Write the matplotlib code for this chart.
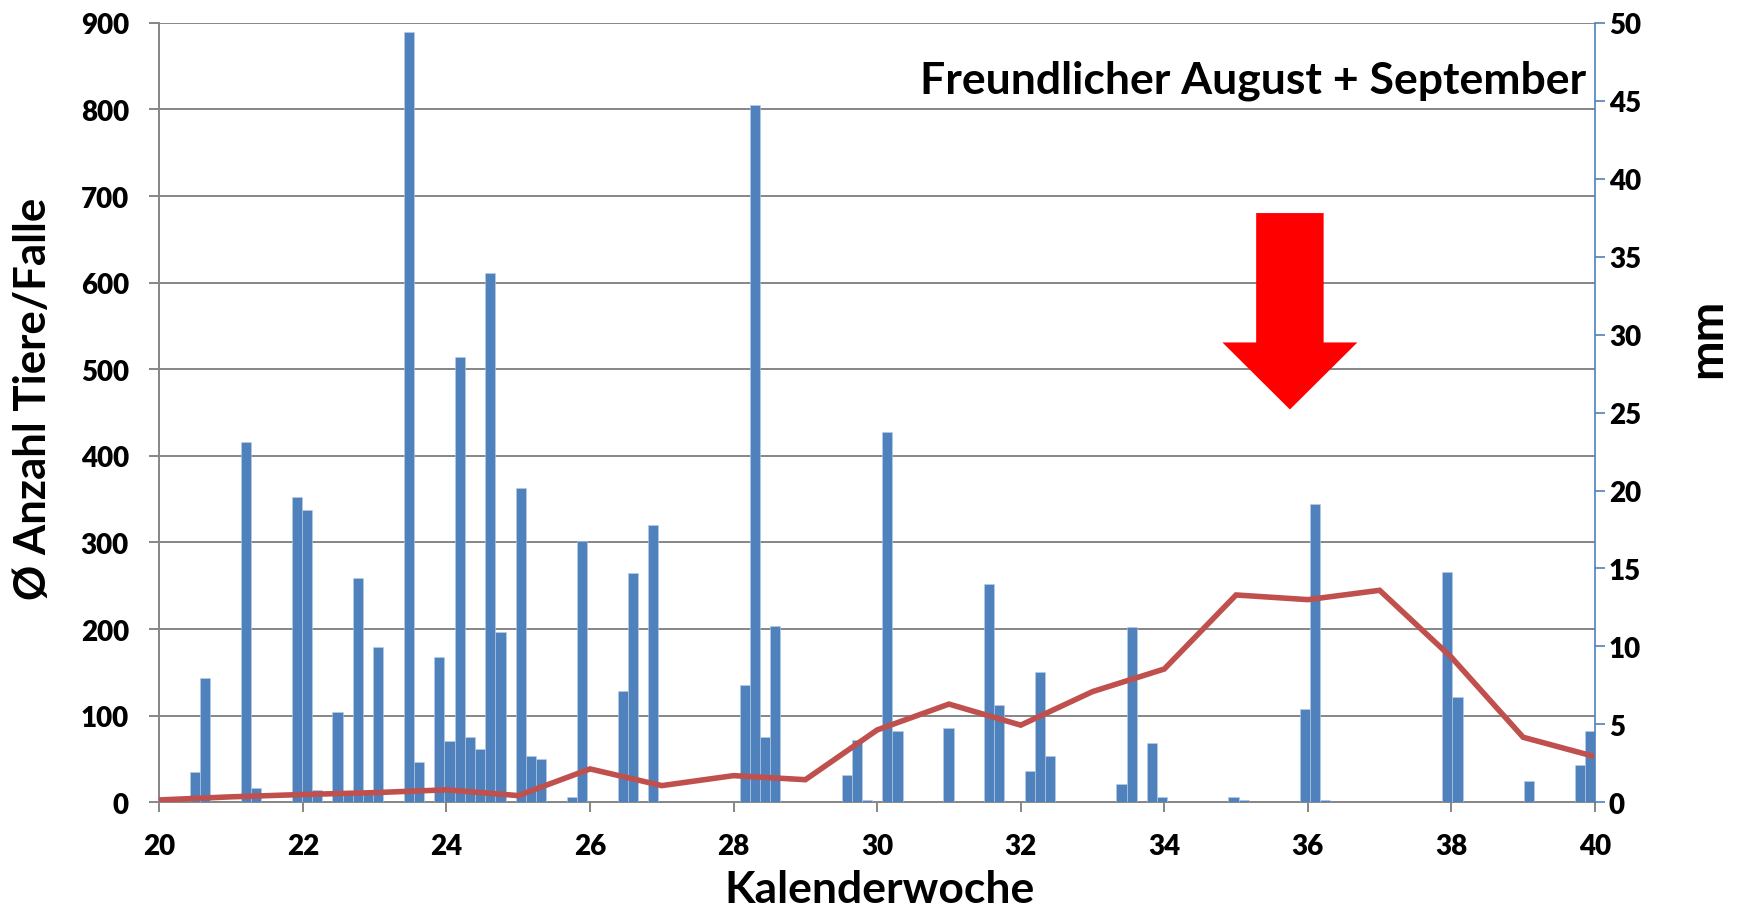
import matplotlib
matplotlib.use("Agg")
import matplotlib.pyplot as plt
from matplotlib.patches import FancyArrow
import numpy as np

# daily trap counts (day index counted from start of KW 20)
bar_days = [3, 4, 8, 9, 13, 14, 15, 17, 18, 19, 20, 21, 24, 25, 27, 28, 29, 30, 31, 32,
            33, 35, 36, 37, 40, 41, 45, 46, 48, 57, 58, 59, 60, 67, 68, 69, 71, 72, 77,
            81, 82, 85, 86, 87, 94, 95, 97, 98, 105, 106, 112, 113, 114, 126, 127, 134,
            139, 140]
bar_counts = [35, 144, 416, 17, 352, 338, 14, 104, 13, 259, 13, 179, 889, 46, 168, 71, 514,
              75, 61, 611, 197, 363, 53, 50, 6, 302, 129, 265, 320, 136, 805, 75, 204, 32,
              72, 3, 428, 82, 86, 252, 112, 36, 151, 54, 21, 202, 68, 6, 6, 3, 108, 345, 3,
              266, 122, 25, 43, 82]

# weekly rainfall (mm)
weeks = list(range(20, 41))
rain_mm = [0.15, 0.35, 0.5, 0.62, 0.8, 0.43, 2.14, 1.07, 1.71, 1.45, 4.64, 6.3, 4.95,
           7.1, 8.55, 13.3, 13.0, 13.6, 9.3, 4.17, 2.93]

x_ticks = list(range(20, 41, 2))
left_ticks = list(range(0, 901, 100))
right_ticks = list(range(0, 51, 5))

bar_col = '#4F81BD'
line_col = '#C0504D'
grid_col = '#868686'

plt.rcParams['font.family'] = ['Lato', 'DejaVu Sans']
plt.rcParams['font.weight'] = 'bold'
tick_font = dict(fontsize=20, fontweight='heavy')

fig = plt.figure(figsize=(17.38, 9.12), dpi=100)
ax = fig.add_axes([0.0917, 0.1192, 0.8260, 0.8546])

ax.set_xlim(20, 40)
ax.set_ylim(0, 900)
ax.set_xticks(x_ticks, labels=[str(t) for t in x_ticks], **tick_font)
ax.set_yticks(left_ticks, labels=[str(t) for t in left_ticks], **tick_font)
ax.yaxis.grid(True, color=grid_col, linewidth=1.4)
ax.set_axisbelow(True)
for s in ['top', 'right']:
    ax.spines[s].set_visible(False)
ax.spines['left'].set_color(grid_col)
ax.spines['bottom'].set_color(grid_col)
ax.spines['left'].set_linewidth(1.4)
ax.spines['bottom'].set_linewidth(1.4)
ax.tick_params(axis='y', length=7, width=1.4, color=grid_col, pad=15)
ax.tick_params(axis='x', length=7, width=1.4, color=grid_col, pad=15)

# bars on their own day scale
axb = ax.twiny()
axb.set_xlim(0, 141)
axb.set_ylim(0, 900)
axb.axis('off')
axb.bar(bar_days, bar_counts, width=1.0, align='edge', color=bar_col,
        edgecolor='#B9CDE5', linewidth=0.4)

# rainfall on the right axis
axr = ax.twinx()
axr.set_xlim(20, 40)
axr.set_ylim(0, 50)
axr.set_yticks(right_ticks, labels=[str(t) for t in right_ticks], **tick_font)
for s in ['top', 'left', 'bottom']:
    axr.spines[s].set_visible(False)
axr.spines['right'].set_color('#4F81BD')
axr.spines['right'].set_linewidth(1.2)
axr.tick_params(axis='y', length=7, width=1.2, color='#4F81BD', pad=3)
axr.plot(weeks, rain_mm, color=line_col, linewidth=4.0, solid_joinstyle='miter')

arrow = FancyArrow(35.75, 37.8, 0, 25.2 - 37.8, width=0.94, head_width=1.88,
                   head_length=29.5 - 25.2, length_includes_head=True,
                   color='#FF0000', linewidth=0)
axr.add_patch(arrow)

fig.text(0.9126, 0.912, 'Freundlicher August + September', ha='right', va='center',
         fontsize=32, fontweight='bold')
fig.text(0.019, 0.5625, 'Ø Anzahl Tiere/Falle', rotation=90, ha='center', va='center',
         fontsize=31.5, fontweight='bold')
fig.text(0.982, 0.629, 'mm', rotation=90, ha='center', va='center',
         fontsize=34, fontweight='bold')
fig.text(0.5058, 0.024, 'Kalenderwoche', ha='center', va='center',
         fontsize=32, fontweight='bold')

fig.savefig('out.png', dpi=100)
